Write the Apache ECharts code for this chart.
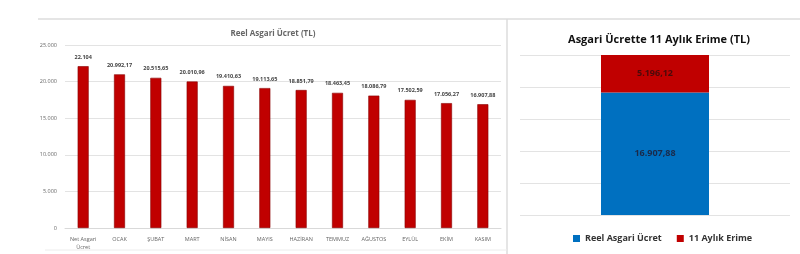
<!DOCTYPE html>
<html><head><meta charset="utf-8">
<script src="https://cdn.jsdelivr.net/npm/echarts@6/dist/echarts.min.js"></script>
<style>html,body{margin:0;padding:0;background:#fff}#c{width:800px;height:254px}</style>
</head><body><div id="c"></div>
<script>
const months = ['Net Asgari\nÜcret','OCAK','ŞUBAT','MART','NİSAN','MAYIS','HAZİRAN','TEMMUZ','AĞUSTOS','EYLÜL','EKİM','KASIM'];
const realWage = [22104, 20992.17, 20515.65, 20010.96, 19410.63, 19113.65, 18851.79, 18463.45, 18086.79, 17502.59, 17056.27, 16907.88];
const stackCategory = ['Kasım'];
const stackReal = [16907.88];
const stackLoss = [5196.12];
const leftTicks = [0, 5000, 10000, 15000, 20000, 25000];

function trFmt(v){
  const isInt = Math.abs(v - Math.round(v)) < 1e-9;
  const s = isInt ? String(Math.round(v)) : v.toFixed(2);
  const parts = s.split('.');
  const ip = parts[0].replace(/\B(?=(\d{3})+(?!\d))/g, '.');
  return parts.length > 1 ? ip + ',' + parts[1] : ip;
}
const total = stackReal[0] + stackLoss[0];
const chart = echarts.init(document.getElementById('c'));
chart.setOption({
  animation: false,
  textStyle: {fontFamily: 'Open Sans'},
  title: [
    {text: 'Reel Asgari Ücret (TL)', left: 268, top: 25, textAlign: 'center',
     textStyle: {fontSize: 8, fontWeight: 'bold', color: '#666', fontFamily: 'Open Sans'}},
    {text: 'Asgari Ücrette 11 Aylık Erime (TL)', left: 654, top: 29, textAlign: 'center',
     textStyle: {fontSize: 11, fontWeight: 'bold', color: '#111', fontFamily: 'Open Sans'}}
  ],
  legend: {
    data: ['Reel Asgari Ücret', '11 Aylık Erime'],
    left: 568, top: 229, itemWidth: 7, itemHeight: 7, itemGap: 15, icon: 'rect',
    textStyle: {fontSize: 9, fontWeight: 'bold', color: '#333', fontFamily: 'Open Sans'}
  },
  grid: [
    {left: 65, top: 45, width: 436, height: 183},
    {left: 520, top: 55, width: 270, height: 160}
  ],
  xAxis: [
    {type: 'category', gridIndex: 0, data: months,
     axisLine: {lineStyle: {color: '#d9d9d9'}}, axisTick: {show: false},
     axisLabel: {fontSize: 5.5, color: '#666', interval: 0, margin: 7, lineHeight: 8}},
    {type: 'category', gridIndex: 1, data: stackCategory, show: false}
  ],
  yAxis: [
    {type: 'value', gridIndex: 0, min: 0, max: 25000, interval: 5000,
     axisLabel: {fontSize: 5.5, color: '#666', margin: 8, formatter: v => trFmt(v)},
     splitLine: {lineStyle: {color: '#e3e3e3'}}, axisLine: {show: false}, axisTick: {show: false}},
    {type: 'value', gridIndex: 1, min: 0, max: total, interval: total / 5,
     axisLabel: {show: false}, splitLine: {lineStyle: {color: '#e3e3e3'}},
     axisLine: {show: false}, axisTick: {show: false}}
  ],
  series: [
    {type: 'bar', xAxisIndex: 0, yAxisIndex: 0, data: realWage, barWidth: 11,
     itemStyle: {color: '#c00000', borderColor: '#8a0000', borderWidth: 0.6},
     label: {show: true, position: 'top', distance: 6, fontSize: 5.5, fontWeight: 'bold', color: '#444',
             formatter: p => trFmt(p.value)}},
    {name: 'Reel Asgari Ücret', type: 'bar', stack: 's', xAxisIndex: 1, yAxisIndex: 1, data: stackReal, barWidth: 108,
     itemStyle: {color: '#0070c0'},
     label: {show: true, position: 'inside', fontSize: 9, fontWeight: 'bold', color: '#1a2a4a',
             formatter: p => trFmt(p.value)}},
    {name: '11 Aylık Erime', type: 'bar', stack: 's', xAxisIndex: 1, yAxisIndex: 1, data: stackLoss, barWidth: 108,
     itemStyle: {color: '#c00000'},
     label: {show: true, position: 'inside', fontSize: 9, fontWeight: 'bold', color: '#4a0a0a',
             formatter: p => trFmt(p.value)}}
  ],
  graphic: [
    {type: 'line', shape: {x1: 38, y1: 19, x2: 800, y2: 19}, style: {stroke: '#dcdcdc', lineWidth: 1.5}, silent: true},
    {type: 'line', shape: {x1: 507, y1: 19, x2: 507, y2: 254}, style: {stroke: '#dcdcdc', lineWidth: 1.5}, silent: true},
    {type: 'line', shape: {x1: 45, y1: 250, x2: 507, y2: 250}, style: {stroke: '#ececec', lineWidth: 1}, silent: true}
  ]
});
</script></body></html>
